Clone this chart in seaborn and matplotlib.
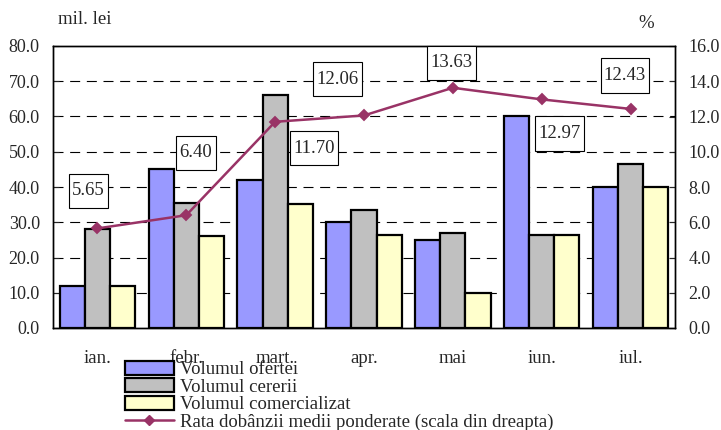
import numpy as np
import pandas as pd
import matplotlib
matplotlib.use("Agg")
import matplotlib.pyplot as plt
import seaborn as sns
from matplotlib.patches import Patch
from matplotlib.lines import Line2D
from matplotlib.path import Path
from matplotlib.ticker import MultipleLocator, FixedLocator

months = ["ian.", "febr.", "mart.", "apr.", "mai", "iun.", "iul."]
oferta = [12.0, 45.0, 42.0, 30.0, 25.0, 60.0, 40.0]
cerere = [28.0, 35.5, 66.0, 33.5, 27.0, 26.3, 46.5]
comercializat = [12.0, 26.0, 35.2, 26.4, 10.0, 26.3, 40.0]
rata = [5.65, 6.40, 11.70, 12.06, 13.63, 12.97, 12.43]
series_names = ["Volumul ofertei", "Volumul cererii", "Volumul comercializat"]
line_name = "Rata dobânzii medii ponderate (scala din dreapta)"

# label offsets (points) for the rate annotations
label_offsets = [(-6.5, 27), (7, 45), (28, -19), (-19, 26), (-1, 18), (13, -24.5), (-4, 24)]

colors = ["#9999FF", "#C0C0C0", "#FFFFCC"]
line_color = "#993366"
FS = 13.5

sns.set_style("white")
plt.rcParams["font.family"] = ["Liberation Serif", "DejaVu Serif"]
plt.rcParams["font.size"] = FS


def tall_box(x0, y0, width, height, mutation_size):
    px = 0.17 * mutation_size
    py = 0.46 * mutation_size
    x0, y0 = x0 - px, y0 - py
    x1, y1 = x0 + width + 2 * px, y0 + height + 2 * py
    return Path([(x0, y0), (x1, y0), (x1, y1), (x0, y1), (x0, y0)], closed=True)


df = pd.DataFrame({
    "luna": months * 3,
    "valoare": oferta + cerere + comercializat,
    "serie": [series_names[0]] * 7 + [series_names[1]] * 7 + [series_names[2]] * 7,
})

fig = plt.figure(figsize=(7.21, 4.30), dpi=100)
ax = fig.add_axes([53 / 721, 1 - 328 / 430, (675 - 53) / 721, (328 - 46) / 430])

sns.barplot(data=df, x="luna", y="valoare", hue="serie", order=months,
            hue_order=series_names, palette=colors, width=0.85, gap=0,
            edgecolor="black", linewidth=1.6, saturation=1, ax=ax, legend=False)
ax.set_xlim(-0.5, len(months) - 0.5)
ax.set_ylim(0, 80)
ax.yaxis.set_major_locator(MultipleLocator(10))
ax.set_yticklabels([f"{v:.1f}" for v in ax.get_yticks()])
ax.set_xlabel("")
ax.set_ylabel("")
for v in range(10, 80, 10):
    ax.axhline(v, color="black", lw=0.8, ls=(0, (9, 6)), zorder=0.5)
ax.tick_params(axis="y", direction="in", length=4, width=0.8, pad=9.5, labelsize=13)
ax.tick_params(axis="x", which="major", length=0, pad=16, labelsize=FS)
ax.xaxis.set_minor_locator(FixedLocator(np.arange(-0.5, len(months), 1.0)))
ax.tick_params(axis="x", which="minor", direction="out", length=5, width=0.8)
for s in ax.spines.values():
    s.set_linewidth(1.0)
    s.set_color("black")

ax2 = ax.twinx()
sns.pointplot(x=months, y=rata, ax=ax2, color=line_color, markers="D",
              markersize=5.5, linewidth=1.8)
ax2.set_xlim(-0.5, len(months) - 0.5)
ax2.set_ylim(0, 16)
ax2.yaxis.set_major_locator(MultipleLocator(2))
ax2.set_yticklabels([f"{v:.1f}" for v in ax2.get_yticks()])
ax2.tick_params(axis="y", direction="in", length=4, width=0.8, pad=9.5, labelsize=13)
ax2.set_ylabel("")
for s in ax2.spines.values():
    s.set_linewidth(1.0)
    s.set_color("black")

for i, (r, off) in enumerate(zip(rata, label_offsets)):
    ax2.annotate(f"{r:.2f}", xy=(i, r), xytext=off, textcoords="offset points",
                 ha="center", va="center", fontsize=FS,
                 bbox=dict(boxstyle=tall_box, fc="white", ec="black", lw=0.8),
                 zorder=5)

fig.text(58 / 721, 1 - 20 / 430, "mil. lei", ha="left", va="center", fontsize=FS)
fig.text(646 / 721, 1 - 24 / 430, "%", ha="center", va="center", fontsize=FS)

handles = [Patch(facecolor=c, edgecolor="black", linewidth=1.6) for c in colors]
handles.append(Line2D([0], [0], color=line_color, lw=1.8, marker="D", markersize=5.5))
fig.legend(handles, series_names + [line_name], loc="upper left",
           bbox_to_anchor=(125 / 721, 1 - 361 / 430), frameon=False,
           handlelength=2.6, handleheight=0.75, labelspacing=0.0,
           handletextpad=0.35, borderpad=0, borderaxespad=0, fontsize=FS)

fig.savefig("out.png", dpi=100)
